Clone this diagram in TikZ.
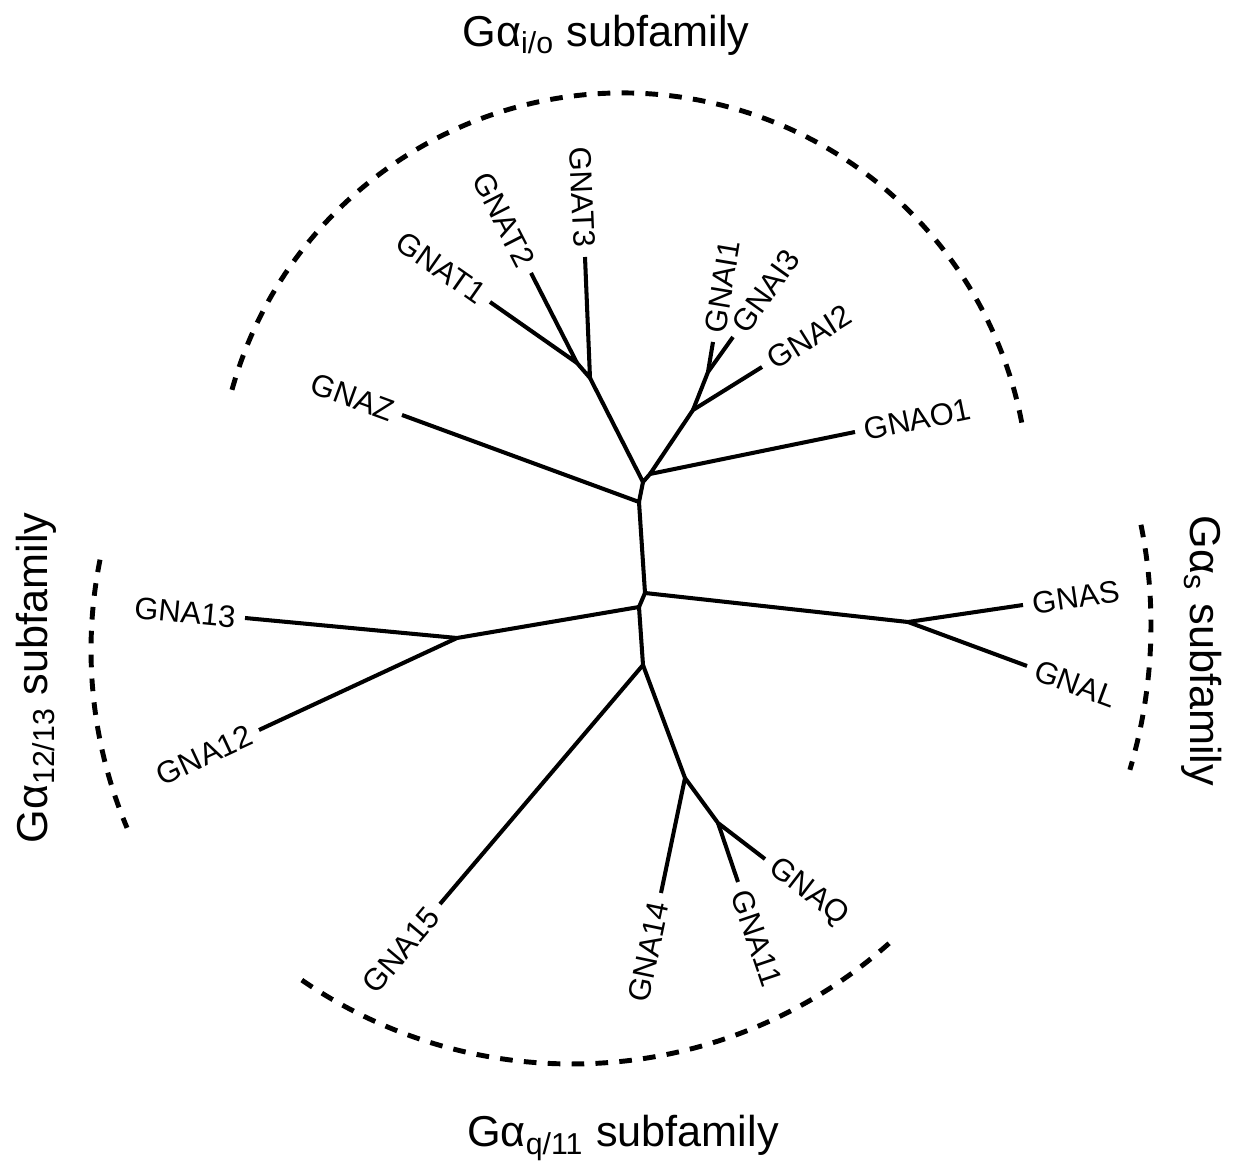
\documentclass[tikz,border=0pt]{standalone}
\usepackage{fontspec}
\setmainfont{Liberation Sans}
\tikzset{
    branch/.style={line width=1.15pt, line join=round}, % the edges of the tree
    clade/.style={line width=1.4pt, dash pattern=on 3.6pt off 3.2pt}, % dashed arcs round each subfamily
    leaf/.style={inner sep=2.5pt, font=\fontsize{8.8}{10}\selectfont}, % gene names at the tips
    family/.style={inner sep=0pt, font=\fontsize{12.3}{14}\selectfont}, % subfamily names
}

\begin{document}
\begin{tikzpicture}
\useasboundingbox (0,0) rectangle (12.38,-11.67);
% inner points of the tree
\coordinate (nA) at (6.43,-4.82);
\coordinate (nB) at (6.50,-4.74);
\coordinate (nT) at (5.90,-3.78);
\coordinate (nT12) at (5.77,-3.63);
\coordinate (nI) at (6.93,-4.10);
\coordinate (nI13) at (7.08,-3.72);
\coordinate (nZ) at (6.39,-5.02);
\coordinate (nS0) at (6.45,-5.93);
\coordinate (nR) at (6.39,-6.07);
\coordinate (nQ0) at (6.43,-6.65);
\coordinate (nS) at (9.08,-6.22);
\coordinate (n1213) at (4.57,-6.38);
\coordinate (nQ) at (6.85,-7.78);
\coordinate (nQ11) at (7.18,-8.23);
% tips
\coordinate (tZ) at (4.02,-4.15);
\coordinate (tT1) at (4.90,-3.02);
\coordinate (tT2) at (5.31,-2.73);
\coordinate (tT3) at (5.85,-2.57);
\coordinate (tI1) at (7.13,-3.42);
\coordinate (tI3) at (7.33,-3.37);
\coordinate (tI2) at (7.62,-3.67);
\coordinate (tO1) at (8.55,-4.32);
\coordinate (tS) at (10.23,-6.05);
\coordinate (tL) at (10.27,-6.66);
\coordinate (t13) at (2.45,-6.18);
\coordinate (t12) at (2.59,-7.30);
\coordinate (t15) at (4.40,-9.04);
\coordinate (t14) at (6.61,-8.93);
\coordinate (t11) at (7.38,-8.82);
\coordinate (tQ) at (7.65,-8.59);

% gene names
\node[leaf, anchor=east, rotate=-20.2] (gnaz) at (tZ) {GNAZ};
\node[leaf, anchor=east, rotate=-35] (gnat1) at (tT1) {GNAT1};
\node[leaf, anchor=east, rotate=-63] (gnat2) at (tT2) {GNAT2};
\node[leaf, anchor=east, rotate=-87.6] (gnat3) at (tT3) {GNAT3};
\node[leaf, anchor=west, rotate=80.5] (gnai1) at (tI1) {GNAI1};
\node[leaf, anchor=west, rotate=54.5] (gnai3) at (tI3) {GNAI3};
\node[leaf, anchor=west, rotate=32] (gnai2) at (tI2) {GNAI2};
\node[leaf, anchor=west, rotate=11.6] (gnao1) at (tO1) {GNAO1};
\node[leaf, anchor=west, rotate=8.4] (gnas) at (tS) {GNAS};
\node[leaf, anchor=west, rotate=-20.3] (gnal) at (tL) {GNAL};
\node[leaf, anchor=west, rotate=-37.5] (gnaq) at (tQ) {GNAQ};
\node[leaf, anchor=west, rotate=-71.3] (gna11) at (t11) {GNA11};
\node[leaf, anchor=east, rotate=78.2] (gna14) at (t14) {GNA14};
\node[leaf, anchor=east, rotate=50] (gna15) at (t15) {GNA15};
\node[leaf, anchor=east, rotate=-5.4] (gna13) at (t13) {GNA13};
\node[leaf, anchor=east, rotate=25] (gna12) at (t12) {GNA12};

% branches
\draw[branch] (tT1) -- (nT12) -- (tT2);
\draw[branch] (nT12) -- (nT) -- (tT3);
\draw[branch] (nT) -- (nA) -- (nB) -- (tO1);
\draw[branch] (nB) -- (nI) -- (tI2);
\draw[branch] (nI) -- (nI13) -- (tI1);
\draw[branch] (nI13) -- (tI3);
\draw[branch] (nA) -- (nZ) -- (tZ);
\draw[branch] (nZ) -- (nS0) -- (nS) -- (tS);
\draw[branch] (nS) -- (tL);
\draw[branch] (nS0) -- (nR) -- (n1213) -- (t13);
\draw[branch] (n1213) -- (t12);
\draw[branch] (nR) -- (nQ0) -- (t15);
\draw[branch] (nQ0) -- (nQ) -- (t14);
\draw[branch] (nQ) -- (nQ11) -- (tQ);
\draw[branch] (nQ11) -- (t11);

% dashed arcs
\coordinate (cIO) at (6.23,-4.99);
\draw[clade] (cIO) ++(164.4:4.06) arc[start angle=164.4, end angle=10.5, radius=4.06];
\coordinate (cQ) at (5.72,-5.87);
\draw[clade] (cQ) ++(235.5:4.77) arc[start angle=235.5, end angle=312.6, radius=4.77];
\coordinate (cS) at (6.44,-6.25);
\draw[clade] (cS) ++(11.4:5.07) arc[start angle=11.4, end angle=-16.6, radius=5.07];
\coordinate (cRho) at (5.48,-6.50);
\draw[clade] (cRho) ++(168.6:4.57) arc[start angle=168.6, end angle=202.9, radius=4.57];

% subfamily names
\node[family] (fio) at (6.06,-0.35) {Gα\textsubscript{i/o} subfamily};
\node[family] (fq) at (6.23,-11.38) {Gα\textsubscript{q/11} subfamily};
\node[family, rotate=-90] (fs) at (12.02,-6.51) {Gα\textsubscript{s} subfamily};
\node[family, rotate=90] (f1213) at (0.36,-6.78) {Gα\textsubscript{12/13} subfamily};
\end{tikzpicture}
\end{document}
